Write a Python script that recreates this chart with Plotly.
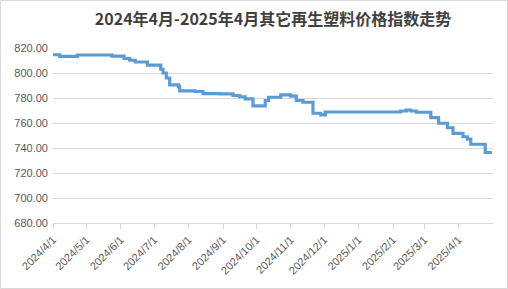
import plotly.graph_objects as go

title_text = "2024年4月-2025年4月其它再生塑料价格指数走势"

dates = [
    "2024-04-01", "2024-04-07", "2024-04-23", "2024-05-24", "2024-06-04",
    "2024-06-09", "2024-06-14", "2024-06-25", "2024-07-07", "2024-07-09",
    "2024-07-12", "2024-07-15", "2024-07-23", "2024-07-24", "2024-08-07",
    "2024-08-14", "2024-08-29", "2024-09-10", "2024-09-16", "2024-09-21",
    "2024-09-28", "2024-10-09", "2024-10-12", "2024-10-23", "2024-11-01",
    "2024-11-06", "2024-11-12", "2024-11-21", "2024-11-28", "2024-12-02",
    "2025-01-30", "2025-02-08", "2025-02-13", "2025-02-17", "2025-02-22",
    "2025-03-07", "2025-03-14", "2025-03-22", "2025-03-27", "2025-04-05",
    "2025-04-09", "2025-04-12", "2025-04-25", "2025-05-01",
]
values = [
    814.6, 813.3, 814.4, 813.5, 811.6,
    810.2, 808.8, 806.3, 803.0, 800.0,
    796.0, 790.5, 789.0, 785.7, 785.2,
    783.5, 783.3, 782.0, 781.0, 779.3,
    773.7, 778.0, 780.6, 782.5, 781.5,
    778.0, 776.6, 767.8, 766.5, 768.8,
    768.8, 769.6, 770.4, 769.6, 768.6,
    764.3, 759.8, 756.2, 751.7, 749.0,
    747.1, 743.0, 736.4, 736.4,
]

tick_dates = [
    "2024-04-01", "2024-05-01", "2024-06-01", "2024-07-01", "2024-08-01",
    "2024-09-01", "2024-10-01", "2024-11-01", "2024-12-01", "2025-01-01",
    "2025-02-01", "2025-03-01", "2025-04-01",
]
tick_labels = [
    "2024/4/1", "2024/5/1", "2024/6/1", "2024/7/1", "2024/8/1",
    "2024/9/1", "2024/10/1", "2024/11/1", "2024/12/1", "2025/1/1",
    "2025/2/1", "2025/3/1", "2025/4/1",
]
y_ticks = [680, 700, 720, 740, 760, 780, 800, 820]

fig = go.Figure()
fig.add_trace(go.Scatter(
    x=dates, y=values, mode="lines",
    line=dict(color="#5B9BD5", width=3.2, shape="hv"),
    hoverinfo="x+y",
))

W, H = 508, 289
ml, mr, mt, mb = 53, 15, 48, 66
pw, ph = W - ml - mr, H - mt - mb

fig.update_layout(
    width=W, height=H,
    margin=dict(l=ml, r=mr, t=mt, b=mb),
    paper_bgcolor="white", plot_bgcolor="white",
    showlegend=False,
    title=dict(
        text="<b>" + title_text + "</b>",
        x=0.5, xref="paper", xanchor="center",
        y=1 - 19 / H, yref="container", yanchor="middle",
        font=dict(family="Noto Sans CJK SC", size=16, color="#404040"),
    ),
    font=dict(family="Noto Sans CJK SC, Liberation Sans", size=11, color="#595959"),
    xaxis=dict(
        type="date",
        range=["2024-04-01", "2025-05-02"],
        tickvals=tick_dates, ticktext=tick_labels,
        tickangle=-45,
        showgrid=False,
        showline=True, linecolor="#D9D9D9", linewidth=1,
        ticks="outside", ticklen=5, tickcolor="#D9D9D9",
        tickfont=dict(family="Liberation Sans", size=11, color="#595959"),
        zeroline=False,
    ),
    yaxis=dict(
        range=[680, 820],
        tickvals=y_ticks,
        tickformat=".2f",
        showgrid=True, gridcolor="#D9D9D9", gridwidth=1,
        showline=False, zeroline=False,
        ticks="", ticklen=0,
        ticklabelstandoff=4,
        tickfont=dict(family="Liberation Sans", size=11, color="#595959"),
    ),
)

# outer chart border
fig.add_shape(
    type="rect", xref="paper", yref="paper",
    x0=(0.5 - ml) / pw, x1=(W - 0.5 - ml) / pw,
    y0=-(mb - 0.5) / ph, y1=1 + (mt - 0.5) / ph,
    line=dict(color="#D9D9D9", width=1), fillcolor="rgba(0,0,0,0)",
    layer="below",
)

fig.write_html("out.html")
